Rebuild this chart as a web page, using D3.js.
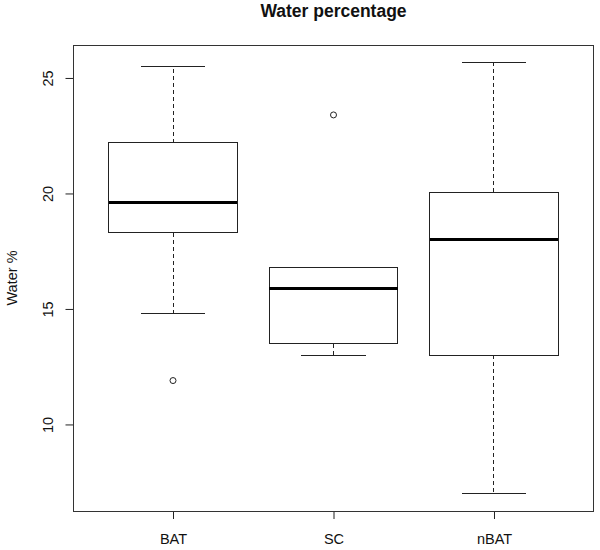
<!DOCTYPE html>
<html>
<head>
<meta charset="utf-8">
<script src="https://cdn.jsdelivr.net/npm/d3@7"></script>
<style>
  body { margin: 0; background: #fff; }
  text { font-family: "Liberation Sans", Arial, sans-serif; fill: #111; }
</style>
</head>
<body>
<div id="chart"></div>
<script>
// values
const groups = ["BAT", "SC", "nBAT"];
const lowWhisker = [14.8, 13.0, 7.0];
const q1 = [18.3, 13.5, 13.0];
const median = [19.6, 15.9, 18.0];
const q3 = [22.2, 16.8, 20.05];
const highWhisker = [25.5, 16.8, 25.68]; // SC: upper whisker ends at Q3
const outliers = [[11.9], [23.4], []];
const yTicks = [10, 15, 20, 25];

const width = 600, height = 550;
const margin = { top: 45, right: 6.5, bottom: 39, left: 73.5 };

const svg = d3.select('#chart').append('svg')
    .attr('width', width)
    .attr('height', height);

const allVals = lowWhisker.concat(highWhisker, outliers.flat());
const lo = d3.min(allVals), hi = d3.max(allVals), pad = (hi - lo) * 0.04;

const y = d3.scaleLinear()
    .domain([lo - pad, hi + pad])
    .range([height - margin.bottom, margin.top]);

const x = d3.scalePoint()
    .domain(groups)
    .range([margin.left, width - margin.right])
    .padding(0.62);

const step = x.step();
const boxW = step * 0.8;
const capW = boxW * 0.5;

// title
svg.append('text')
    .attr('x', (margin.left + width - margin.right) / 2)
    .attr('y', 17)
    .attr('text-anchor', 'middle')
    .style('font-size', '17.5px')
    .style('font-weight', 'bold')
    .text('Water percentage');

// y axis
const yAxis = svg.append('g')
    .attr('transform', `translate(${margin.left},0)`)
    .call(d3.axisLeft(y).tickValues(yTicks).tickSize(8).tickSizeOuter(0));
yAxis.select('.domain').remove();
yAxis.selectAll('line').attr('stroke', '#222');
yAxis.selectAll('text')
    .attr('transform', 'rotate(-90)')
    .attr('x', 0)
    .attr('y', -20.5)
    .attr('dy', 0)
    .attr('text-anchor', 'middle')
    .style('font-size', '14.5px')
    .style('font-family', '"Liberation Sans", Arial, sans-serif')
    .attr('fill', '#111');

// x axis
const xAxis = svg.append('g')
    .attr('transform', `translate(0,${height - margin.bottom})`)
    .call(d3.axisBottom(x).tickSize(8).tickSizeOuter(0));
xAxis.select('.domain').remove();
xAxis.selectAll('line').attr('stroke', '#222');
xAxis.selectAll('text')
    .attr('y', 33)
    .attr('dy', 0)
    .style('font-size', '14.5px')
    .style('font-family', '"Liberation Sans", Arial, sans-serif')
    .attr('fill', '#111');

// y label
svg.append('text')
    .attr('transform', `translate(17,${(margin.top + height - margin.bottom) / 2}) rotate(-90)`)
    .attr('text-anchor', 'middle')
    .style('font-size', '14.5px')
    .text('Water %');

// boxes
const g = svg.append('g').attr('class', 'boxes');

groups.forEach((k, i) => {
    const cx = x(k);
    const box = g.append('g').attr('shape-rendering', 'crispEdges');

    // whiskers (dashed)
    box.append('line')
        .attr('x1', cx).attr('x2', cx)
        .attr('y1', y(q3[i])).attr('y2', y(highWhisker[i]))
        .attr('stroke', '#222').attr('stroke-dasharray', '4,3');
    box.append('line')
        .attr('x1', cx).attr('x2', cx)
        .attr('y1', y(q1[i])).attr('y2', y(lowWhisker[i]))
        .attr('stroke', '#222').attr('stroke-dasharray', '4,3');

    // caps
    [lowWhisker[i], highWhisker[i]].forEach(v => {
        box.append('line')
            .attr('x1', cx - capW / 2).attr('x2', cx + capW / 2)
            .attr('y1', y(v)).attr('y2', y(v))
            .attr('stroke', '#222');
    });

    box.append('rect')
        .attr('x', cx - boxW / 2)
        .attr('y', y(q3[i]))
        .attr('width', boxW)
        .attr('height', y(q1[i]) - y(q3[i]))
        .attr('fill', 'none')
        .attr('stroke', '#222');

    box.append('line')
        .attr('x1', cx - boxW / 2).attr('x2', cx + boxW / 2)
        .attr('y1', y(median[i])).attr('y2', y(median[i]))
        .attr('stroke', '#000').attr('stroke-width', 3);

    g.selectAll(null)
        .data(outliers[i])
        .enter()
        .append('circle')
        .attr('cx', cx)
        .attr('cy', d => y(d))
        .attr('r', 3)
        .attr('fill', 'none')
        .attr('stroke', '#222');
});

// frame
svg.append('rect')
    .attr('x', margin.left)
    .attr('y', margin.top)
    .attr('width', width - margin.left - margin.right)
    .attr('height', height - margin.top - margin.bottom)
    .attr('fill', 'none')
    .attr('stroke', '#333')
    .attr('shape-rendering', 'crispEdges');
</script>
</body>
</html>
